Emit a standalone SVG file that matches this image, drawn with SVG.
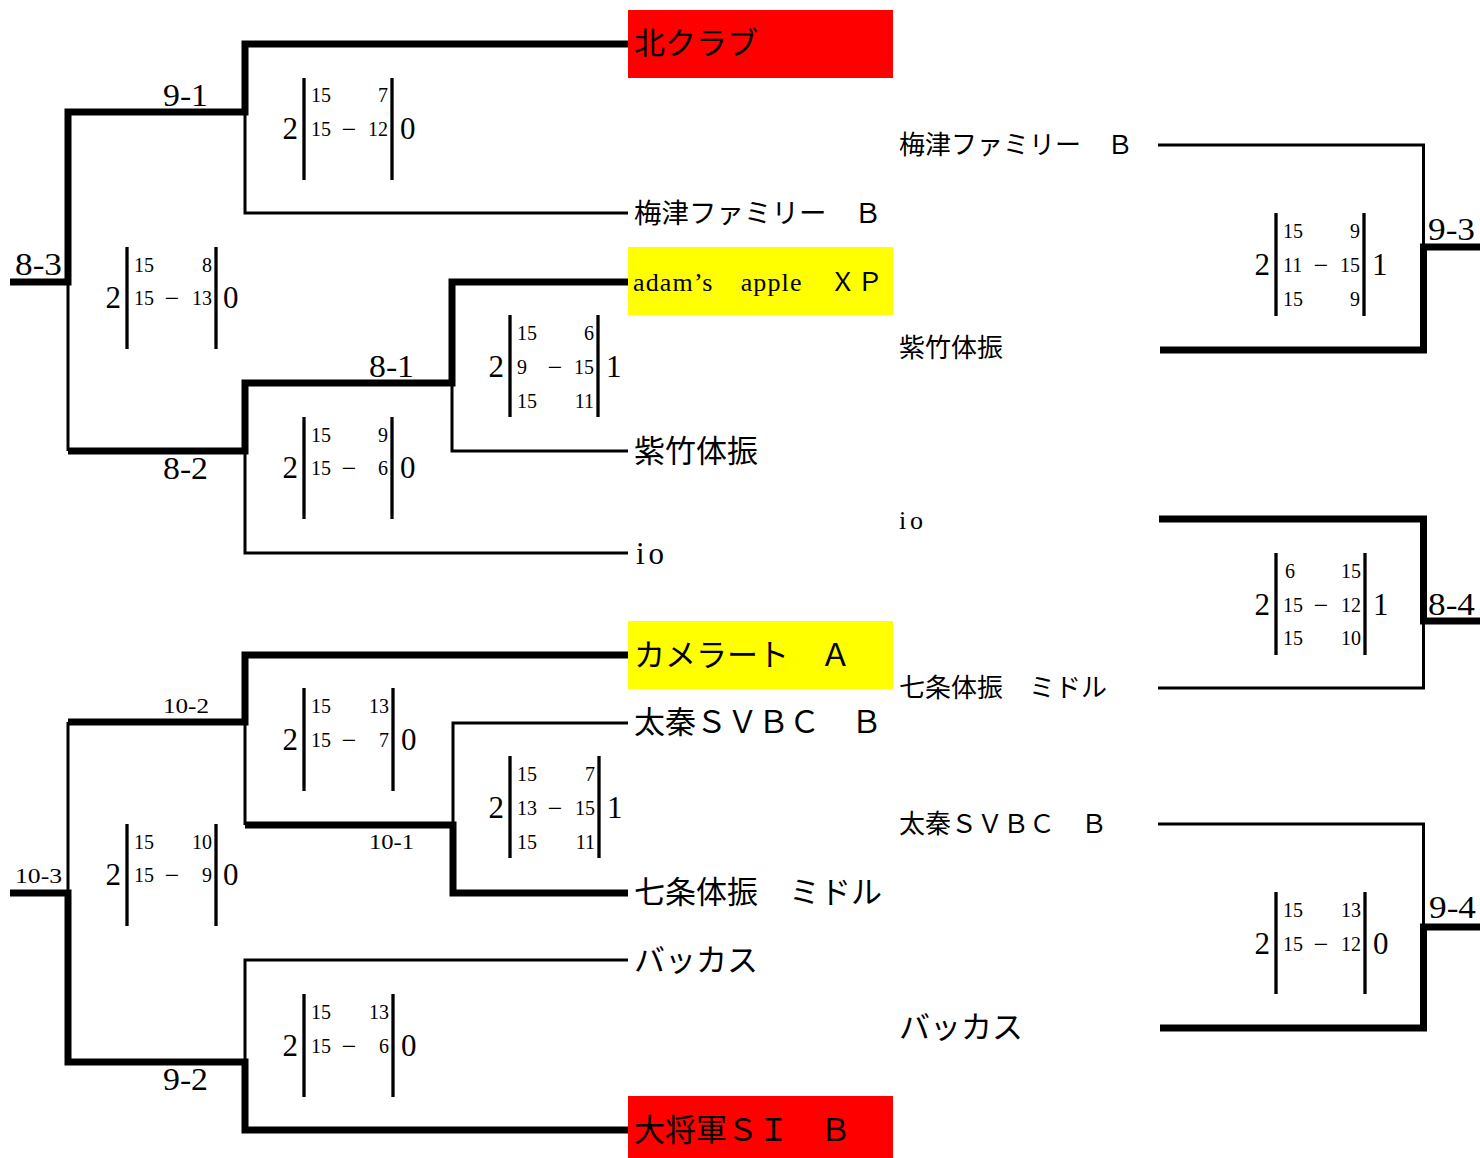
<svg xmlns="http://www.w3.org/2000/svg" width="1480" height="1158" viewBox="0 0 1480 1158">
<style>
.thick{fill:none;stroke:#000;stroke-width:7;stroke-linejoin:miter}
.thin{fill:none;stroke:#000;stroke-width:3}
.bar{stroke:#000;stroke-width:3.3}
text{font-family:"Liberation Serif","Noto Sans CJK JP",serif;fill:#000}
.t31{font-size:31px;dominant-baseline:central}
.t27{font-size:27.5px;dominant-baseline:central}
.t26{font-size:26px;dominant-baseline:central}
.rl{font-size:31px}
.rs{font-size:22px}
.big{font-size:31px;dominant-baseline:central}
.sm{font-size:20px;dominant-baseline:central}
.dash{font-size:26px;dominant-baseline:central}
.red{fill:#ff0000}
.yel{fill:#ffff00}
</style>
<rect width="1480" height="1158" fill="#fff"/>
<g id="highlights">
<rect class="red" x="628" y="10" width="265" height="68"/>
<rect class="yel" x="628" y="247" width="265" height="68"/>
<rect class="yel" x="628" y="621" width="265" height="68"/>
<rect class="red" x="628" y="1096" width="265" height="62"/>
</g>
<g id="connectors">
<polyline class="thick" points="10,282 68,282 68,112 245,112 245,44 628,44"/>
<polyline class="thin" points="245,112 245,213 628,213"/>
<polyline class="thin" points="68,282 68,451"/>
<polyline class="thick" points="68,451 245,451 245,383 452,383 452,282 628,282"/>
<polyline class="thin" points="452,383 452,451 628,451"/>
<polyline class="thin" points="245,451 245,553 628,553"/>
<polyline class="thick" points="68,722 245,722 245,655 628,655"/>
<polyline class="thin" points="68,722 68,893"/>
<polyline class="thick" points="10,893 68,893 68,1062 245,1062 245,1130 628,1130"/>
<polyline class="thin" points="245,722 245,825"/>
<polyline class="thick" points="245,825 453,825 453,893 628,893"/>
<polyline class="thin" points="453,825 453,723 628,723"/>
<polyline class="thin" points="245,1062 245,960 628,960"/>
<polyline class="thin" points="1158,145 1423.5,145 1423.5,247"/>
<polyline class="thick" points="1480,247 1423.5,247 1423.5,350 1160,350"/>
<polyline class="thick" points="1159,519 1423.5,519 1423.5,621 1480,621"/>
<polyline class="thin" points="1423.5,621 1423.5,688 1158,688"/>
<polyline class="thin" points="1158,824 1423.5,824 1423.5,927"/>
<polyline class="thick" points="1480,927 1423.5,927 1423.5,1028 1160,1028"/>
</g>
<g id="round-labels">
<text class="rl" x="15" y="275" textLength="47" lengthAdjust="spacingAndGlyphs">8-3</text>
<text class="rl" x="163" y="106" textLength="45" lengthAdjust="spacingAndGlyphs">9-1</text>
<text class="rl" x="369" y="377" textLength="45" lengthAdjust="spacingAndGlyphs">8-1</text>
<text class="rl" x="163" y="479" textLength="45" lengthAdjust="spacingAndGlyphs">8-2</text>
<text class="rl" x="1428" y="240" textLength="47" lengthAdjust="spacingAndGlyphs">9-3</text>
<text class="rl" x="1428" y="615" textLength="47" lengthAdjust="spacingAndGlyphs">8-4</text>
<text class="rl" x="1429" y="918" textLength="47" lengthAdjust="spacingAndGlyphs">9-4</text>
<text class="rl" x="163" y="1090" textLength="45" lengthAdjust="spacingAndGlyphs">9-2</text>
<text class="rs" x="163" y="713" textLength="46" lengthAdjust="spacingAndGlyphs">10-2</text>
<text class="rs" x="369" y="849" textLength="45" lengthAdjust="spacingAndGlyphs">10-1</text>
<text class="rs" x="15" y="883" textLength="47" lengthAdjust="spacingAndGlyphs">10-3</text>
</g>
<g id="team-kita"><text class="t31" x="634" y="43">北クラブ</text></g>
<g id="team-umezu"><text class="t27" x="634" y="213">梅津ファミリー　Ｂ</text></g>
<g id="team-adams"><text class="t26" x="633" y="282" textLength="250" lengthAdjust="spacing">adam’s　apple　ＸＰ</text></g>
<g id="team-shichiku"><text class="t31" x="634" y="451">紫竹体振</text></g>
<g id="team-io"><text class="t31" x="636" y="553" textLength="28" lengthAdjust="spacing">io</text></g>
<g id="team-camerat"><text class="t31" x="634" y="655">カメラート　Ａ</text></g>
<g id="team-uzumasa"><text class="t31" x="634" y="722">太秦ＳＶＢＣ　Ｂ</text></g>
<g id="team-shichijo"><text class="t31" x="634" y="892">七条体振　ミドル</text></g>
<g id="team-bacchus"><text class="t31" x="634" y="960">バッカス</text></g>
<g id="team-daishogun"><text class="t31" x="634" y="1130">大将軍ＳＩ　Ｂ</text></g>
<g id="r-umezu"><text class="t26" x="899" y="145">梅津ファミリー　Ｂ</text></g>
<g id="r-shichiku"><text class="t26" x="899" y="348">紫竹体振</text></g>
<g id="r-io"><text class="t26" x="899" y="520" textLength="24" lengthAdjust="spacing">io</text></g>
<g id="r-shichijo"><text class="t26" x="899" y="688">七条体振　ミドル</text></g>
<g id="r-uzumasa"><text class="t26" x="899" y="824">太秦ＳＶＢＣ　Ｂ</text></g>
<g id="r-bacchus"><text class="t31" x="899" y="1027">バッカス</text></g>
<g id="score-9-1">
<line class="bar" x1="304" y1="78" x2="304" y2="180"/><line class="bar" x1="392" y1="78" x2="392" y2="180"/>
<text class="big" x="298" y="128" text-anchor="end">2</text><text class="big" x="400" y="128">0</text>
<text class="sm" x="311" y="95">15</text><text class="sm" x="388" y="95" text-anchor="end">7</text>
<text class="sm" x="311" y="129">15</text><text class="dash" x="349" y="129" text-anchor="middle">−</text><text class="sm" x="388" y="129" text-anchor="end">12</text>
</g>
<g id="score-8-3">
<line class="bar" x1="127" y1="247" x2="127" y2="349"/><line class="bar" x1="216" y1="247" x2="216" y2="349"/>
<text class="big" x="121" y="297" text-anchor="end">2</text><text class="big" x="223" y="297">0</text>
<text class="sm" x="134" y="265">15</text><text class="sm" x="212" y="265" text-anchor="end">8</text>
<text class="sm" x="134" y="298">15</text><text class="dash" x="172" y="298" text-anchor="middle">−</text><text class="sm" x="212" y="298" text-anchor="end">13</text>
</g>
<g id="score-8-1">
<line class="bar" x1="510" y1="315" x2="510" y2="417"/><line class="bar" x1="598" y1="315" x2="598" y2="417"/>
<text class="big" x="504" y="366" text-anchor="end">2</text><text class="big" x="606" y="366">1</text>
<text class="sm" x="517" y="333">15</text><text class="sm" x="594" y="333" text-anchor="end">6</text>
<text class="sm" x="517" y="367">9</text><text class="dash" x="555" y="367" text-anchor="middle">−</text><text class="sm" x="594" y="367" text-anchor="end">15</text>
<text class="sm" x="517" y="401">15</text><text class="sm" x="594" y="401" text-anchor="end">11</text>
</g>
<g id="score-8-2">
<line class="bar" x1="304" y1="417" x2="304" y2="519"/><line class="bar" x1="392" y1="417" x2="392" y2="519"/>
<text class="big" x="298" y="467" text-anchor="end">2</text><text class="big" x="400" y="467">0</text>
<text class="sm" x="311" y="435">15</text><text class="sm" x="388" y="435" text-anchor="end">9</text>
<text class="sm" x="311" y="468">15</text><text class="dash" x="349" y="468" text-anchor="middle">−</text><text class="sm" x="388" y="468" text-anchor="end">6</text>
</g>
<g id="score-9-3">
<line class="bar" x1="1276" y1="213" x2="1276" y2="316"/><line class="bar" x1="1364" y1="213" x2="1364" y2="316"/>
<text class="big" x="1270" y="264" text-anchor="end">2</text><text class="big" x="1372" y="264">1</text>
<text class="sm" x="1283" y="231">15</text><text class="sm" x="1360" y="231" text-anchor="end">9</text>
<text class="sm" x="1283" y="265">11</text><text class="dash" x="1321" y="265" text-anchor="middle">−</text><text class="sm" x="1360" y="265" text-anchor="end">15</text>
<text class="sm" x="1283" y="299">15</text><text class="sm" x="1360" y="299" text-anchor="end">9</text>
</g>
<g id="score-8-4">
<line class="bar" x1="1276" y1="553" x2="1276" y2="655"/><line class="bar" x1="1365" y1="553" x2="1365" y2="655"/>
<text class="big" x="1270" y="604" text-anchor="end">2</text><text class="big" x="1373" y="604">1</text>
<text class="sm" x="1285" y="571">6</text><text class="sm" x="1361" y="571" text-anchor="end">15</text>
<text class="sm" x="1283" y="605">15</text><text class="dash" x="1321" y="605" text-anchor="middle">−</text><text class="sm" x="1361" y="605" text-anchor="end">12</text>
<text class="sm" x="1283" y="638">15</text><text class="sm" x="1361" y="638" text-anchor="end">10</text>
</g>
<g id="score-10-2">
<line class="bar" x1="304" y1="688" x2="304" y2="791"/><line class="bar" x1="393" y1="688" x2="393" y2="791"/>
<text class="big" x="298" y="739" text-anchor="end">2</text><text class="big" x="401" y="739">0</text>
<text class="sm" x="311" y="706">15</text><text class="sm" x="389" y="706" text-anchor="end">13</text>
<text class="sm" x="311" y="740">15</text><text class="dash" x="349" y="740" text-anchor="middle">−</text><text class="sm" x="389" y="740" text-anchor="end">7</text>
</g>
<g id="score-10-1">
<line class="bar" x1="510" y1="756" x2="510" y2="858"/><line class="bar" x1="599" y1="756" x2="599" y2="858"/>
<text class="big" x="504" y="807" text-anchor="end">2</text><text class="big" x="607" y="807">1</text>
<text class="sm" x="517" y="774">15</text><text class="sm" x="595" y="774" text-anchor="end">7</text>
<text class="sm" x="517" y="808">13</text><text class="dash" x="555" y="808" text-anchor="middle">−</text><text class="sm" x="595" y="808" text-anchor="end">15</text>
<text class="sm" x="517" y="842">15</text><text class="sm" x="595" y="842" text-anchor="end">11</text>
</g>
<g id="score-10-3">
<line class="bar" x1="127" y1="824" x2="127" y2="926"/><line class="bar" x1="216" y1="824" x2="216" y2="926"/>
<text class="big" x="121" y="874" text-anchor="end">2</text><text class="big" x="223" y="874">0</text>
<text class="sm" x="134" y="842">15</text><text class="sm" x="212" y="842" text-anchor="end">10</text>
<text class="sm" x="134" y="875">15</text><text class="dash" x="172" y="875" text-anchor="middle">−</text><text class="sm" x="212" y="875" text-anchor="end">9</text>
</g>
<g id="score-9-2">
<line class="bar" x1="304" y1="994" x2="304" y2="1097"/><line class="bar" x1="393" y1="994" x2="393" y2="1097"/>
<text class="big" x="298" y="1045" text-anchor="end">2</text><text class="big" x="401" y="1045">0</text>
<text class="sm" x="311" y="1012">15</text><text class="sm" x="389" y="1012" text-anchor="end">13</text>
<text class="sm" x="311" y="1046">15</text><text class="dash" x="349" y="1046" text-anchor="middle">−</text><text class="sm" x="389" y="1046" text-anchor="end">6</text>
</g>
<g id="score-9-4">
<line class="bar" x1="1276" y1="892" x2="1276" y2="994"/><line class="bar" x1="1365" y1="892" x2="1365" y2="994"/>
<text class="big" x="1270" y="943" text-anchor="end">2</text><text class="big" x="1373" y="943">0</text>
<text class="sm" x="1283" y="910">15</text><text class="sm" x="1361" y="910" text-anchor="end">13</text>
<text class="sm" x="1283" y="944">15</text><text class="dash" x="1321" y="944" text-anchor="middle">−</text><text class="sm" x="1361" y="944" text-anchor="end">12</text>
</g>
</svg>
